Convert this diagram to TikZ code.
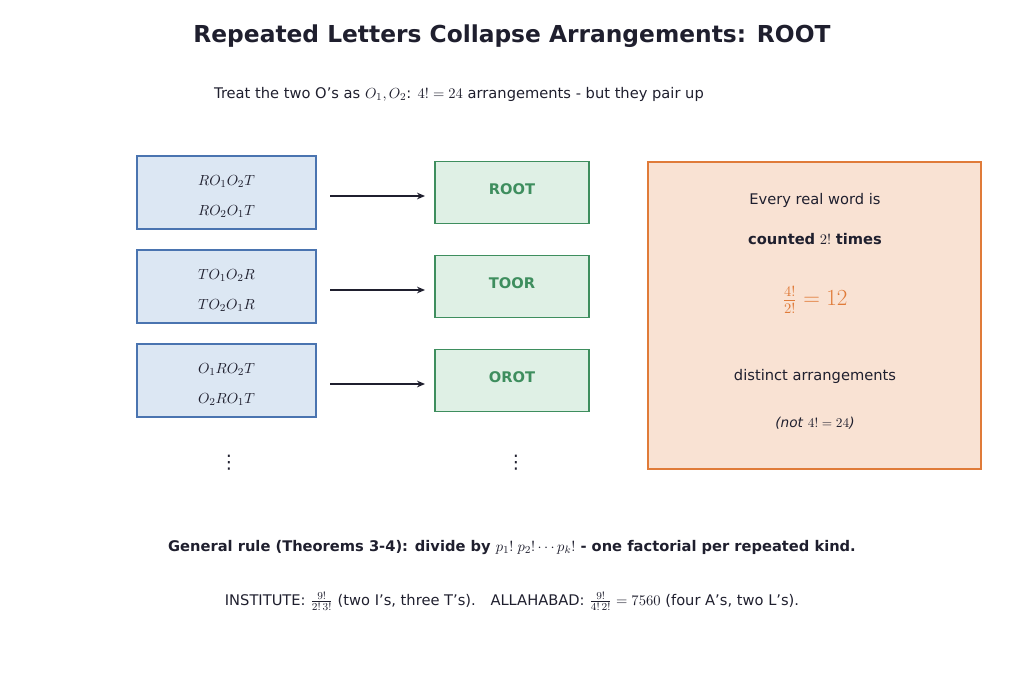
\documentclass[tikz,border=0pt]{standalone}
\usepackage{fontspec}
\setmainfont{DejaVu Sans}
\usetikzlibrary{arrows.meta}
\definecolor{ink}{HTML}{1F1F2E}
\definecolor{bfill}{HTML}{DCE7F3}\definecolor{bdraw}{HTML}{4A74B0}
\definecolor{gfill}{HTML}{DFF0E5}\definecolor{gdraw}{HTML}{3E8E5E}
\definecolor{ofill}{HTML}{F9E2D3}\definecolor{odraw}{HTML}{E07B39}
\begin{document}
\begin{tikzpicture}[x=0.75pt,y=-0.75pt,
  txt/.style={text=ink,font=\fontsize{11}{13}\selectfont,inner sep=0},
  lb/.style={draw=bdraw,fill=bfill,line width=1.2pt,minimum width=134.25pt,minimum height=54.75pt},
  gb/.style={draw=gdraw,fill=gfill,line width=1.3pt,minimum width=115.5pt,minimum height=46.5pt},
  arr/.style={-{Stealth[length=6pt,width=5pt]},line width=1.2pt,draw=ink}]
\useasboundingbox (0,0) rectangle (1024,683);
\node[text=ink,font=\bfseries\fontsize{17.5}{21}\selectfont] (title) at (512,36) {Repeated Letters Collapse Arrangements: ROOT};
\node[txt] (sub) at (459,94) {Treat the two O's as $O_1,O_2$: $4!=24$ arrangements - but they pair up};
\foreach \i/\y/\a/\b/\w in {1/192.5/RO_1O_2T/RO_2O_1T/ROOT,2/286.5/TO_1O_2R/TO_2O_1R/TOOR,3/380.5/O_1RO_2T/O_2RO_1T/OROT}{
  \node[lb] (l\i) at (226.5,\y) {};
  \node[txt] (la\i) at (226.5,\y-11) {$\a$};
  \node[txt] (lc\i) at (226.5,\y+19) {$\b$};
  \node[gb] (g\i) at (512,\y) {};
  \node[text=gdraw,font=\bfseries\fontsize{11}{13}\selectfont] (gt\i) at (512,\y-3) {\w};
  \coordinate (s\i) at (330,\y+3.5);
  \coordinate (e\i) at (425,\y+3.5);
  \draw[arr] (s\i) -- (e\i);
}
\node[txt,font=\fontsize{14}{16}\selectfont] (d1) at (229,463) {\symbol{"22EE}};
\node[txt,font=\fontsize{14}{16}\selectfont] (d2) at (516,463) {\symbol{"22EE}};
\node[draw=odraw,fill=ofill,line width=1.5pt,minimum width=249.75pt,minimum height=230.25pt] (ob) at (814.5,315.5) {};
\node[txt] (o1) at (815,200) {Every real word is};
\node[txt] (o2) at (815,239) {\textbf{counted} $2!$ \textbf{times}};
\node[text=odraw,font=\fontsize{16}{19}\selectfont] (o3) at (815,300) {$\frac{4!}{2!}=12$};
\node[txt] (o4) at (815,376) {distinct arrangements};
\node[txt,font=\fontsize{10.25}{12}\selectfont] (o5) at (815,423) {\textit{(not} $4!=24$\textit{)}};
\node[txt,font=\bfseries\fontsize{11}{13}\selectfont] (r1) at (512,547) {General rule (Theorems 3-4): divide by $p_1!\;p_2!\cdots p_k!$ - one factorial per repeated kind.};
\node[txt] (r2) at (512,601) {INSTITUTE: $\frac{9!}{2!\,3!}$ (two I's, three T's).\quad ALLAHABAD: $\frac{9!}{4!\,2!}=7560$ (four A's, two L's).};
\end{tikzpicture}
\end{document}
